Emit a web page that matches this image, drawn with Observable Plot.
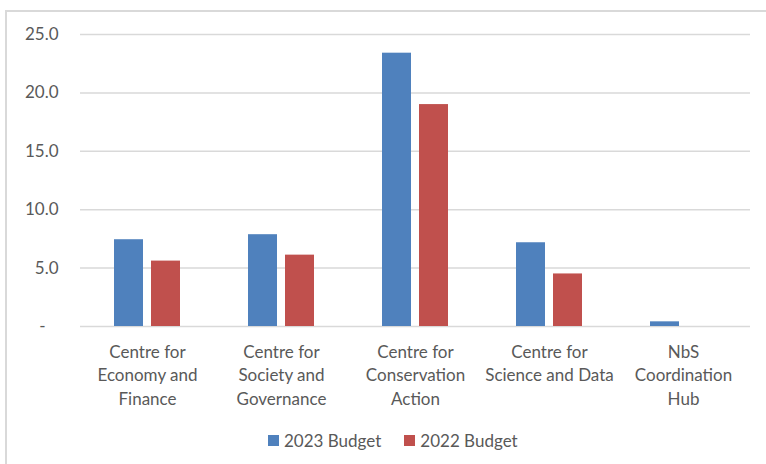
<!DOCTYPE html>
<html>
<head>
<meta charset="utf-8">
<script src="https://cdn.jsdelivr.net/npm/d3@7"></script>
<script src="https://cdn.jsdelivr.net/npm/@observablehq/plot@0.6"></script>
<style>
  html, body { margin: 0; padding: 0; background: #fff; overflow: hidden; width: 766px; height: 464px; }
  #frame { position: absolute; left: 5px; top: 10px; width: 900px; height: 600px; border: 2px solid #d9d9d9; box-sizing: border-box; }
  #chart { position: absolute; left: 0; top: 0; }
  #legend { position: absolute; left: 268px; top: 430px; display: flex; gap: 23px; font-family: Lato, sans-serif; font-size: 17px; line-height: 21px; color: #595959; }
  .item { display: flex; align-items: center; gap: 5px; }
  .sw { width: 11px; height: 11px; display: inline-block; }
</style>
</head>
<body>
<div id="frame"></div>
<div id="chart"></div>
<div id="legend"></div>
<script>
const categories = ["Centre for Economy and Finance", "Centre for Society and Governance", "Centre for Conservation Action", "Centre for Science and Data", "NbS Coordination Hub"];
const categoryLabels = ["Centre for\nEconomy and\nFinance", "Centre for\nSociety and\nGovernance", "Centre for\nConservation\nAction", "Centre for\nScience and Data", "NbS\nCoordination\nHub"];
const series = ["2023 Budget", "2022 Budget"];
const budget2023 = [7.43, 7.86, 23.4, 7.17, 0.4];
const budget2022 = [5.6, 6.11, 19.0, 4.5, null];
const colors = ["#4f81bd", "#c0504d"];
const yTicks = [0, 5, 10, 15, 20, 25];

const data = categories.flatMap((c, i) => [
  {category: c, series: series[0], value: budget2023[i]},
  {category: c, series: series[1], value: budget2022[i]}
]).filter(d => d.value != null);

const chart = Plot.plot({
  width: 766,
  height: 420,
  marginLeft: 80,
  marginRight: 16,
  marginTop: 34,
  marginBottom: 94,
  style: {fontFamily: "Lato, sans-serif", fontSize: "17px", color: "#595959", background: "transparent", overflow: "visible"},
  fx: {domain: categories, padding: 0, label: null},
  x: {domain: series, paddingInner: 0.21, paddingOuter: 0.87, axis: null},
  y: {domain: [0, 25], label: null},
  color: {domain: series, range: colors},
  marks: [
    Plot.ruleY(yTicks, {stroke: "#d9d9d9", strokeWidth: 1.5}),
    Plot.barY(data, {fx: "category", x: "series", y: "value", fill: "series"}),
    Plot.axisFx({anchor: "bottom", tickSize: 0, tickPadding: 15, lineHeight: 1.37, fontSize: 17, label: null,
      tickFormat: d => categoryLabels[categories.indexOf(d)]}),
    Plot.axisY({ticks: yTicks, tickSize: 0, tickPadding: 22, fontSize: 17, label: null,
      tickFormat: d => d === 0 ? "-\u00a0\u00a0\u00a0" : d.toFixed(1)})
  ]
});
document.getElementById("chart").appendChild(chart);

const legend = document.getElementById("legend");
series.forEach((s, i) => {
  const item = document.createElement("div");
  item.className = "item";
  const sw = document.createElement("span");
  sw.className = "sw";
  sw.style.background = colors[i];
  const t = document.createElement("span");
  t.textContent = s;
  item.appendChild(sw);
  item.appendChild(t);
  legend.appendChild(item);
});
</script>
</body>
</html>
